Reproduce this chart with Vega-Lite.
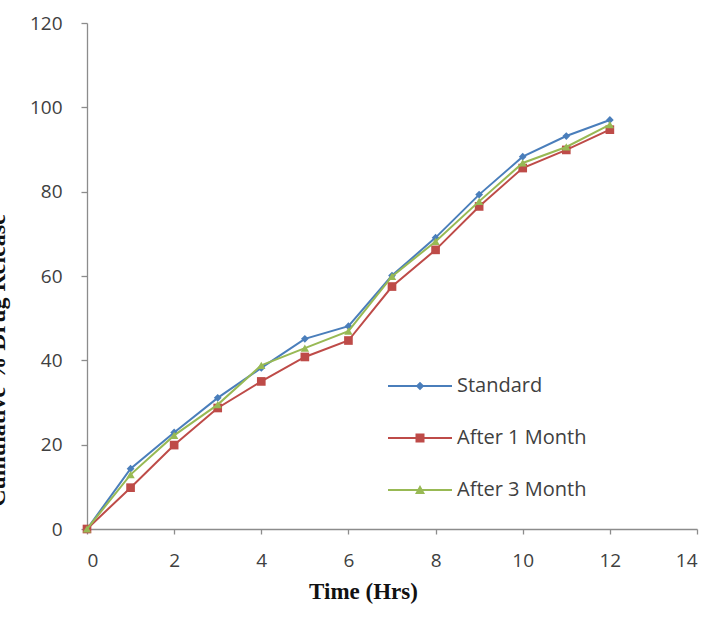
{
  "$schema": "https://vega.github.io/schema/vega-lite/v6.json",
  "width": 610,
  "height": 506,
  "autosize": {"type": "none"},
  "padding": {"left": 87, "top": 23, "right": 10, "bottom": 109},
  "background": "white",
  "config": {
    "view": {"stroke": null},
    "axis": {
      "grid": false,
      "domainColor": "#8c8c8c",
      "tickColor": "#8c8c8c",
      "domainWidth": 1.3,
      "tickWidth": 1.3,
      "labelFont": "Open Sans",
      "labelFontSize": 19,
      "labelColor": "#404040",
      "titleFont": "Liberation Serif",
      "titleFontWeight": "bold",
      "titleColor": "#111111"
    }
  },
  "data": {
    "values": [
      {"time": 0, "release": 0, "series": "Standard"},
      {"time": 1, "release": 14.3, "series": "Standard"},
      {"time": 2, "release": 22.9, "series": "Standard"},
      {"time": 3, "release": 31.1, "series": "Standard"},
      {"time": 4, "release": 38.2, "series": "Standard"},
      {"time": 5, "release": 45.1, "series": "Standard"},
      {"time": 6, "release": 48.1, "series": "Standard"},
      {"time": 7, "release": 60.1, "series": "Standard"},
      {"time": 8, "release": 69.1, "series": "Standard"},
      {"time": 9, "release": 79.3, "series": "Standard"},
      {"time": 10, "release": 88.3, "series": "Standard"},
      {"time": 11, "release": 93.2, "series": "Standard"},
      {"time": 12, "release": 97.0, "series": "Standard"},
      {"time": 0, "release": 0, "series": "After 1 Month"},
      {"time": 1, "release": 9.8, "series": "After 1 Month"},
      {"time": 2, "release": 19.9, "series": "After 1 Month"},
      {"time": 3, "release": 28.7, "series": "After 1 Month"},
      {"time": 4, "release": 35.0, "series": "After 1 Month"},
      {"time": 5, "release": 40.8, "series": "After 1 Month"},
      {"time": 6, "release": 44.7, "series": "After 1 Month"},
      {"time": 7, "release": 57.5, "series": "After 1 Month"},
      {"time": 8, "release": 66.2, "series": "After 1 Month"},
      {"time": 9, "release": 76.5, "series": "After 1 Month"},
      {"time": 10, "release": 85.6, "series": "After 1 Month"},
      {"time": 11, "release": 89.9, "series": "After 1 Month"},
      {"time": 12, "release": 94.7, "series": "After 1 Month"},
      {"time": 0, "release": 0, "series": "After 3 Month"},
      {"time": 1, "release": 12.9, "series": "After 3 Month"},
      {"time": 2, "release": 22.2, "series": "After 3 Month"},
      {"time": 3, "release": 29.5, "series": "After 3 Month"},
      {"time": 4, "release": 38.8, "series": "After 3 Month"},
      {"time": 5, "release": 42.9, "series": "After 3 Month"},
      {"time": 6, "release": 46.9, "series": "After 3 Month"},
      {"time": 7, "release": 59.9, "series": "After 3 Month"},
      {"time": 8, "release": 68.2, "series": "After 3 Month"},
      {"time": 9, "release": 77.7, "series": "After 3 Month"},
      {"time": 10, "release": 86.8, "series": "After 3 Month"},
      {"time": 11, "release": 90.6, "series": "After 3 Month"},
      {"time": 12, "release": 95.9, "series": "After 3 Month"}
    ]
  },
  "encoding": {
    "x": {
      "field": "time",
      "type": "quantitative",
      "scale": {"domain": [0, 14], "nice": false, "zero": false},
      "axis": {
        "values": [0, 2, 4, 6, 8, 10, 12, 14],
        "tickSize": 5,
        "labelPadding": 17,
        "title": "Time (Hrs)",
        "titleFontSize": 23,
        "titleX": 276,
        "titleY": 69,
        "titleAlign": "center",
        "titleBaseline": "alphabetic",
        "titleAnchor": null
      }
    },
    "y": {
      "field": "release",
      "type": "quantitative",
      "scale": {"domain": [0, 120], "nice": false},
      "axis": {
        "values": [0, 20, 40, 60, 80, 100, 120],
        "tickSize": 6,
        "labelPadding": 19,
        "title": "Cumulative % Drug Release",
        "titleFontSize": 24,
        "titleAngle": 270,
        "titleX": -83,
        "titleY": 337,
        "titleAlign": "center",
        "titleBaseline": "alphabetic"
      }
    }
  },
  "layer": [
    {
      "mark": {"type": "point", "filled": true, "size": 0, "opacity": 1, "strokeWidth": 0},
      "encoding": {
        "color": {
          "field": "series",
          "type": "nominal",
          "scale": {
            "domain": ["Standard", "After 1 Month", "After 3 Month"],
            "range": ["#4A7EBB", "#BE4B48", "#98B954"]
          },
          "legend": {
            "title": null,
            "orient": "none",
            "legendX": 323,
            "legendY": 353,
            "padding": 0,
            "labelFont": "Open Sans",
            "labelFontSize": 20,
            "labelColor": "#404040",
            "labelOffset": 27,
            "rowPadding": 32,
            "symbolSize": 100,
            "symbolOpacity": 1,
            "symbolStrokeWidth": 0
          }
        },
        "shape": {
          "field": "series",
          "type": "nominal",
          "scale": {
            "domain": ["Standard", "After 1 Month", "After 3 Month"],
            "range": [
              "M-6.4,-0.2H6.4V0.2H-6.4ZM0,-0.85L0.85,0L0,0.85L-0.85,0Z",
              "M-6.4,-0.2H6.4V0.2H-6.4ZM-0.9,-0.9H0.9V0.9H-0.9Z",
              "M-6.4,-0.2H6.4V0.2H-6.4ZM0,-1L1,0.8L-1,0.8Z"
            ]
          }
        }
      }
    },
    {
      "transform": [{"filter": "datum.series === 'Standard'"}],
      "mark": {"type": "line", "strokeWidth": 2, "color": "#4A7EBB"}
    },
    {
      "transform": [{"filter": "datum.series === 'Standard'"}],
      "mark": {"type": "point", "filled": true, "opacity": 1, "size": 60, "shape": "diamond", "color": "#4A7EBB"}
    },
    {
      "transform": [{"filter": "datum.series === 'After 1 Month'"}],
      "mark": {"type": "line", "strokeWidth": 2, "color": "#BE4B48"}
    },
    {
      "transform": [{"filter": "datum.series === 'After 1 Month'"}],
      "mark": {"type": "point", "filled": true, "opacity": 1, "size": 75, "shape": "square", "color": "#BE4B48"}
    },
    {
      "transform": [{"filter": "datum.series === 'After 3 Month'"}],
      "mark": {"type": "line", "strokeWidth": 2, "color": "#98B954"}
    },
    {
      "transform": [{"filter": "datum.series === 'After 3 Month'"}],
      "mark": {"type": "point", "filled": true, "opacity": 1, "size": 70, "shape": "triangle-up", "color": "#98B954"}
    }
  ]
}
